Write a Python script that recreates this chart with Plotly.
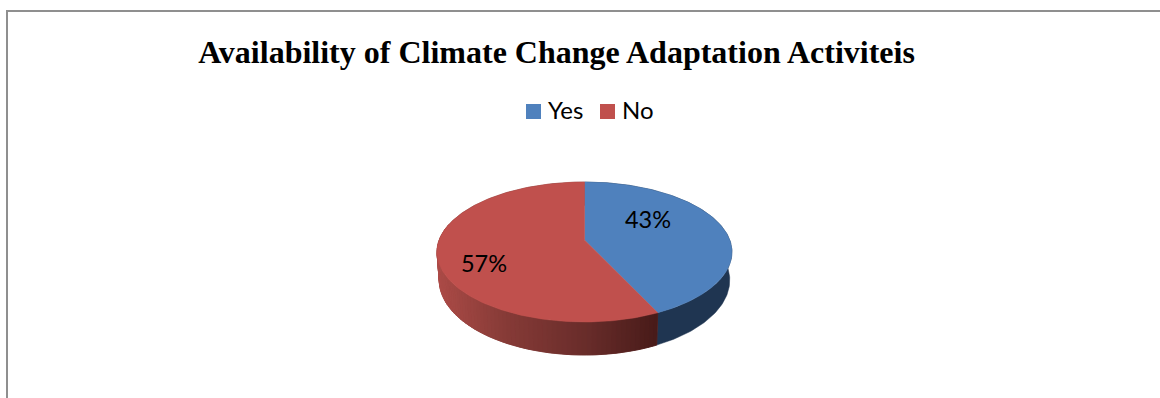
import numpy as np
import plotly.graph_objects as go

# Chart content
categories = ["Yes", "No"]
percentages = [43, 57]
title_text = "Availability of Climate Change Adaptation Activiteis"

# Colours
top_colours = ["#4f81bd", "#c0504d"]
wall_stops_x = [437, 503, 587, 656]
wall_stops_rgb = [(172, 75, 71), (135, 59, 55), (104, 44, 42), (72, 27, 25)]
blue_wall = "#1f3551"
frame_colour = "#8f8f8f"
font_label = "Lato"
font_title = "Liberation Serif"

# Pie geometry on a pixel-scaled plot: a tilted disc seen in perspective
CX, CY = 584.5, 240.0
PERSP = -0.1714
TILT = 26.8
RADIUS = 145.3
WALL_SCALE_X = 0.985
WALL_SCALE_Y = 1.07
FRONT_TOP, FRONT_BOTTOM = 322.0, 355.0


def project(theta, r=1.0):
    """Map an angle clockwise from 12 o'clock onto the tilted disc."""
    u = r * np.sin(theta)
    v = -r * np.cos(theta)
    w = 1 + PERSP * v
    return CX + RADIUS * u / w, (CY + TILT * v) / w


def project_base(theta):
    x, y = project(theta)
    return CX + WALL_SCALE_X * (x - CX), FRONT_BOTTOM + WALL_SCALE_Y * (y - FRONT_TOP)


def wall_colour(x):
    rgb = [np.interp(x, wall_stops_x, [s[i] for s in wall_stops_rgb]) for i in range(3)]
    return "rgb({:.0f},{:.0f},{:.0f})".format(*rgb)


def add_wall(fig, start, end, colour, width):
    arc = np.linspace(start, end, max(2, int((end - start) * 60)))
    xt, yt = project(arc)
    xb, yb = project_base(arc)
    fig.add_trace(go.Scatter(
        x=np.concatenate([xt, xb[::-1], xt[:1]]),
        y=np.concatenate([yt, yb[::-1], yt[:1]]),
        mode="lines", fill="toself", fillcolor=colour,
        line=dict(color=colour, width=width),
        showlegend=False, hoverinfo="skip",
    ))


fig = go.Figure()

shares = np.array(percentages) / sum(percentages)
edges = np.concatenate([[0], np.cumsum(shares)]) * 2 * np.pi

# Blue wall is one flat colour; red wall gets a base coat, then shaded strips
add_wall(fig, edges[0], edges[1], blue_wall, 0.5)
add_wall(fig, edges[1], edges[2], wall_colour(540), 0.5)
strips = np.linspace(edges[1], 1.5 * np.pi + 0.25, 80)
for a, b in zip(strips[:-1], strips[1:]):
    xm, _ = project(np.array([(a + b) / 2]))
    add_wall(fig, a, b, wall_colour(xm[0]), 0.8)

# Top face of each slice
for i, name in enumerate(categories):
    arc = np.linspace(edges[i], edges[i + 1], 240)
    xs, ys = project(arc)
    fig.add_trace(go.Scatter(
        x=np.concatenate([[CX], xs, [CX]]),
        y=np.concatenate([[CY], ys, [CY]]),
        mode="lines", fill="toself", fillcolor=top_colours[i],
        line=dict(color=top_colours[i], width=0.5),
        showlegend=False, name=name, hoverinfo="name",
    ))

# Legend key: swatch and caption placed side by side
key_swatch_x = [533.5, 607.5]
key_text_x = [548.0, 622.0]
key_swatch_y = [111.5, 111.5]
key_text_y = [112.5, 112.5]
fig.add_trace(go.Scatter(
    x=key_swatch_x, y=key_swatch_y, mode="markers",
    marker=dict(symbol="square", size=15, color=top_colours, line=dict(width=0)),
    showlegend=False, hoverinfo="skip",
))
fig.add_trace(go.Scatter(
    x=key_text_x, y=key_text_y, mode="text", text=categories,
    textposition="middle right",
    textfont=dict(family=font_label, size=24, color="#000000"),
    showlegend=False, hoverinfo="skip",
))

# Percentage labels
label_x = [648.0, 484.0]
label_y = [222.0, 266.0]
fig.add_trace(go.Scatter(
    x=label_x, y=label_y, mode="text",
    text=[f"{p}%" for p in percentages],
    textposition="middle center",
    textfont=dict(family=font_label, size=23.5, color="#000000"),
    showlegend=False, hoverinfo="skip",
))

fig.update_layout(
    width=1160, height=398,
    margin=dict(l=0, r=0, t=0, b=0),
    paper_bgcolor="#ffffff", plot_bgcolor="#ffffff",
    showlegend=False,
    xaxis=dict(range=[0, 1160], visible=False, fixedrange=True),
    yaxis=dict(range=[398, 0], visible=False, fixedrange=True),
    title=dict(
        text=f"<b>{title_text}</b>",
        font=dict(family=font_title, size=32, color="#000000"),
        x=556.5 / 1160, xanchor="center",
        y=1 - 51.5 / 398, yanchor="middle",
    ),
    shapes=[dict(
        type="path", path="M 7 398 L 7 11 L 1160 11",
        line=dict(color=frame_colour, width=2),
        xref="x", yref="y",
    )],
)

fig.write_html("out.html")
